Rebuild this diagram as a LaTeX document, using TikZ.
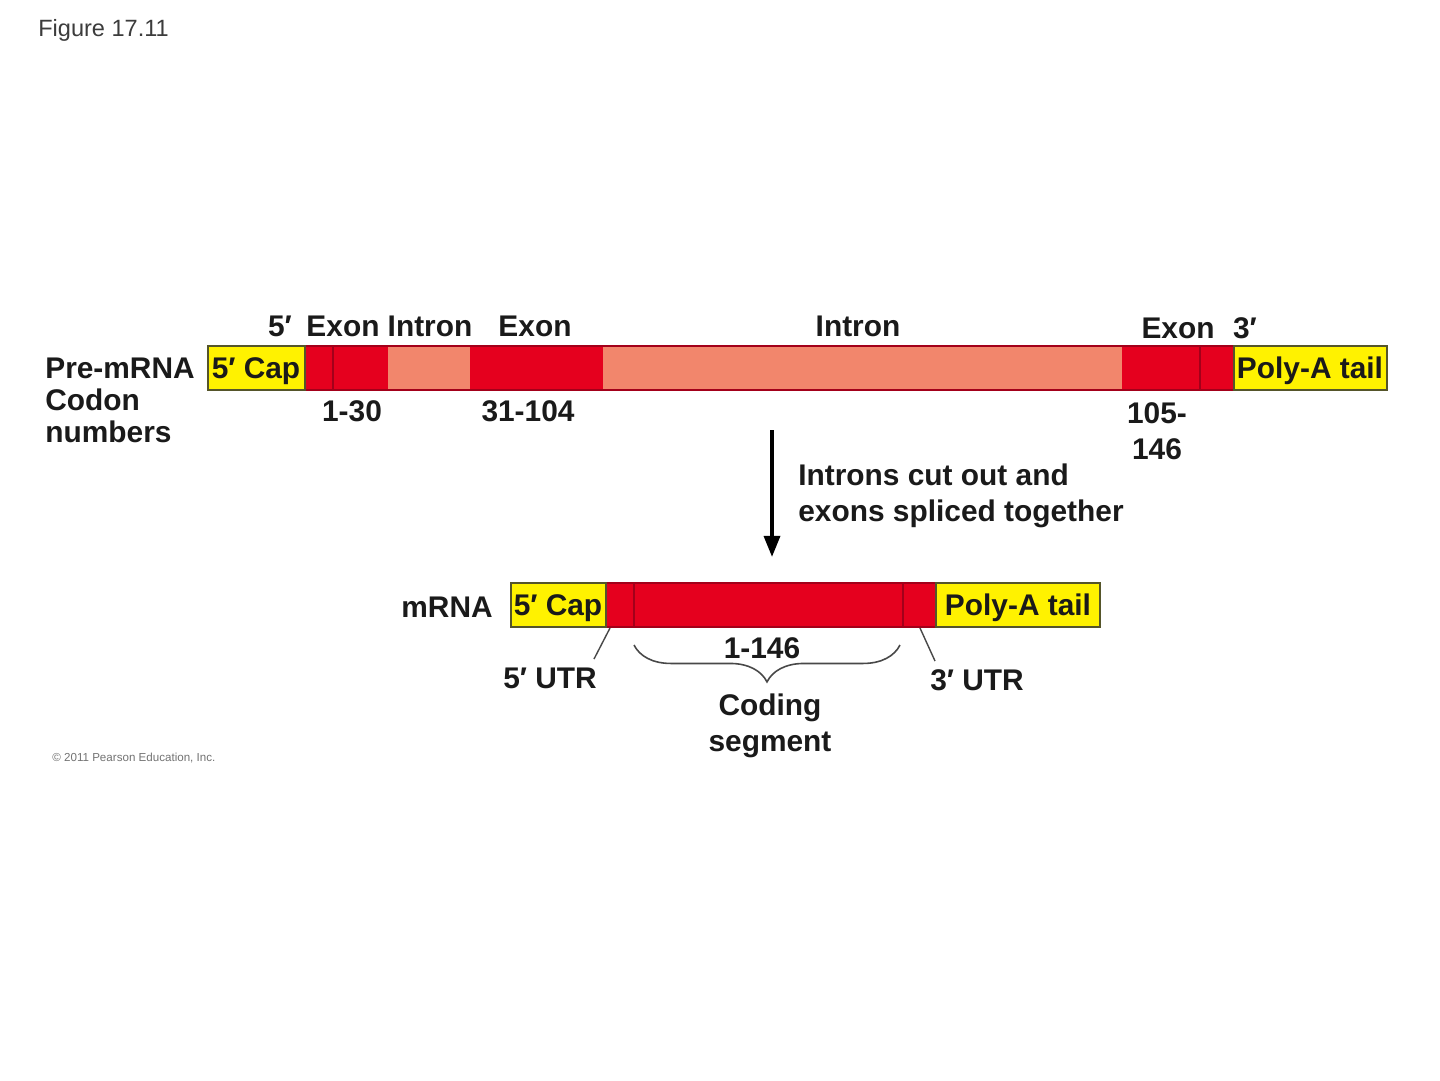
\documentclass[tikz,border=0pt]{standalone}
\usepackage{fontspec}
\setmainfont{Liberation Sans}
\usetikzlibrary{positioning,calc,decorations.pathreplacing,arrows.meta}
\definecolor{capyellow}{HTML}{FFF200}
\definecolor{exonred}{HTML}{E5001E}
\definecolor{intronpink}{HTML}{F2866C}
\definecolor{utrline}{HTML}{A3001A}
\definecolor{barframe}{HTML}{55552A}
\definecolor{txt}{HTML}{1A1A1A}

\begin{document}
\begin{tikzpicture}[x=0.02cm,y=-0.02cm,
  lbl/.style={font=\bfseries\fontsize{17}{18.2}\selectfont,text=txt,inner sep=0pt},
  lbltwo/.style={lbl,font=\bfseries\fontsize{17}{20.5}\selectfont,align=center},
  frame/.style={barframe,line width=0.7pt}]
  \useasboundingbox[fill=white] (0,0) rectangle (1440,1080);

  % title and credit
  \node[anchor=west,inner sep=0pt,text=txt!85,font=\fontsize{13.4}{15}\selectfont] (fig) at (38,30) {Figure 17.11};
  \node[anchor=west,inner sep=0pt,text=black!55,font=\fontsize{6.6}{8}\selectfont] (credit) at (52,758) {\textcopyright{} 2011 Pearson Education, Inc.};

  % pre-mRNA bar
  \foreach \a/\b/\c in {208/305/capyellow,305/388/exonred,388/470/intronpink,470/603/exonred,
                        603/1122/intronpink,1122/1234/exonred,1234/1387/capyellow}
    \fill[\c] (\a,346) rectangle (\b,390);
  \draw[utrline,line width=0.6pt] (305,346) rectangle (1234,390);
  \foreach \x in {333,1200}
    \draw[utrline,line width=0.6pt] (\x,346) -- (\x,390);
  \draw[frame] (208,346) rectangle (305,390);
  \draw[frame] (1234,346) rectangle (1387,390);
  \node[lbl] (cap1) at (256,371) {5′ Cap};
  \node[lbl] (tail1) at (1310,371) {Poly-A tail};

  % labels over and under the bar
  \node[lbl] (five) at (280,326) {5′};
  \node[lbl] (exA) at (343,326) {Exon};
  \node[lbl] (inA) at (430,326) {Intron};
  \node[lbl] (exB) at (535,326) {Exon};
  \node[lbl] (inB) at (858,326) {Intron};
  \node[lbl] (exC) at (1178,328) {Exon};
  \node[lbl] (three) at (1245,328) {3′};
  \node[lbl] (cdA) at (352,411) {1-30};
  \node[lbl] (cdB) at (528,411) {31-104};
  \node[lbltwo] (cdC) at (1157,431) {105-\\146};
  \node[lbl,align=left,anchor=west] (pre) at (45,400) {Pre-mRNA\\Codon\\numbers};

  % splicing arrow
  \coordinate (splicetop) at (772,430);
  \coordinate (splicebot) at (772,557);
  \draw[line width=2.2pt,-{Triangle[width=9pt,length=12pt]}] (splicetop) -- (splicebot);
  \node[lbltwo,align=left,anchor=west] (splice) at (798,496) {Introns cut out and\\exons spliced together};

  % mRNA bar
  \foreach \a/\b/\c in {511/606/capyellow,606/936/exonred,936/1100/capyellow}
    \fill[\c] (\a,583) rectangle (\b,627);
  \draw[utrline,line width=0.6pt] (606,583) rectangle (936,627);
  \foreach \x in {634,903}
    \draw[utrline,line width=0.6pt] (\x,583) -- (\x,627);
  \draw[frame] (511,583) rectangle (606,627);
  \draw[frame] (936,583) rectangle (1100,627);
  \node[lbl] (cap2) at (558,608) {5′ Cap};
  \node[lbl] (tail2) at (1018,608) {Poly-A tail};
  \node[lbl,anchor=east] (mrna) at (493,607) {mRNA};

  % UTR labels
  \node[lbl] (utrA) at (550,678) {5′ UTR};
  \node[lbl] (utrB) at (977,680) {3′ UTR};
  \coordinate (utrAend) at (594,659);
  \coordinate (utrBend) at (935,661);
  \draw[txt!80,line width=0.8pt] (610,628) -- (utrAend);
  \draw[txt!80,line width=0.8pt] (920,628) -- (utrBend);

  % coding segment brace
  \draw[txt!80,line width=0.9pt,decorate,decoration={brace,mirror,amplitude=21pt}] (634,645) -- (900,645);
  \node[lbl] (cds) at (762,648) {1-146};
  \node[lbltwo] (coding) at (770,726) {Coding\\segment};
\end{tikzpicture}
\end{document}
